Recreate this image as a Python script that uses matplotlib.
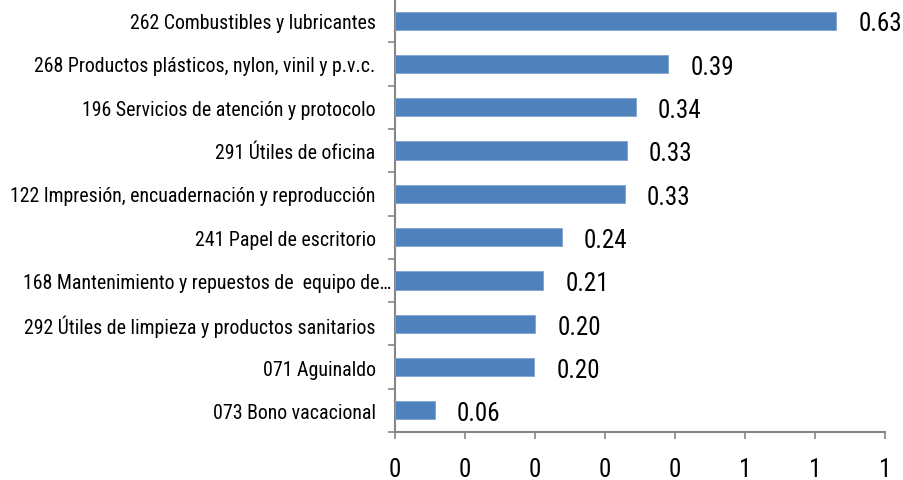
import matplotlib
matplotlib.use("Agg")
import matplotlib.pyplot as plt
from matplotlib import font_manager
from matplotlib.ticker import FixedLocator
from matplotlib.transforms import ScaledTranslation

categories = [
    "262 Combustibles y lubricantes",
    "268 Productos plásticos, nylon, vinil y p.v.c.",
    "196 Servicios de atención y protocolo",
    "291 Útiles de oficina",
    "122 Impresión, encuadernación y reproducción",
    "241 Papel de escritorio",
    "168 Mantenimiento y repuestos de  equipo de…",
    "292 Útiles de limpieza y productos sanitarios",
    "071 Aguinaldo",
    "073 Bono vacacional",
]
values = [0.63, 0.39, 0.344, 0.331, 0.328, 0.238, 0.212, 0.200, 0.199, 0.057]
xticks = [0, 0.1, 0.2, 0.3, 0.4, 0.5, 0.6, 0.7]
xtick_labels = ["0", "0", "0", "0", "0", "1", "1", "1"]

names = {f.name for f in font_manager.fontManager.ttflist}
fam = None
for cand in ["Liberation Sans Narrow", "Arial Narrow", "Roboto Condensed"]:
    if cand in names:
        fam = cand
        break
if fam is None:
    fam = "Liberation Sans"
    cat_fs, val_fs, tick_fs = 12.6, 15.5, 15.5
else:
    cat_fs, val_fs, tick_fs = 14.3, 18, 18
plt.rcParams["font.family"] = [fam, "DejaVu Sans"]

fig = plt.figure(figsize=(9.04, 4.81), dpi=100)
W, H = 904, 481
ax = fig.add_axes([395 / W, (H - 433) / H, (885 - 395) / W, 433 / H])

n = len(categories)
ypos = list(range(n))
ax.barh(ypos, values, height=0.42, color="#4F81BD", edgecolor="#7FA3D0", linewidth=0.6, zorder=3)
ax.set_ylim(n - 0.5, -0.5)
ax.set_xlim(0, 0.7)

for y, v in zip(ypos, values):
    ax.annotate(f"{v:.2f}", (v, y), xytext=(16, -2), textcoords="offset points",
                ha="left", va="center", fontsize=val_fs, color="black")

ax.set_yticks(ypos)
ax.set_yticklabels(categories, fontsize=cat_fs)
ax.yaxis.set_minor_locator(FixedLocator([i - 0.5 for i in range(n + 1)]))
ax.tick_params(axis="y", which="major", length=0, pad=14)
ax.tick_params(axis="y", which="minor", length=5, width=1.2, color="#868686", direction="out")

# the truncated label extends further right in the original
for lab in ax.get_yticklabels():
    if lab.get_text().endswith("…"):
        lab.set_transform(lab.get_transform() + ScaledTranslation(0.16, 0, fig.dpi_scale_trans))

ax.xaxis.set_major_locator(FixedLocator(xticks))
ax.set_xticklabels(xtick_labels, fontsize=tick_fs)
ax.tick_params(axis="x", length=5, width=1.2, color="#868686", pad=13)

for s in ["top", "right"]:
    ax.spines[s].set_visible(False)
for s in ["left", "bottom"]:
    ax.spines[s].set_color("#868686")
    ax.spines[s].set_linewidth(1.5)

fig.savefig("out.png", dpi=100)
